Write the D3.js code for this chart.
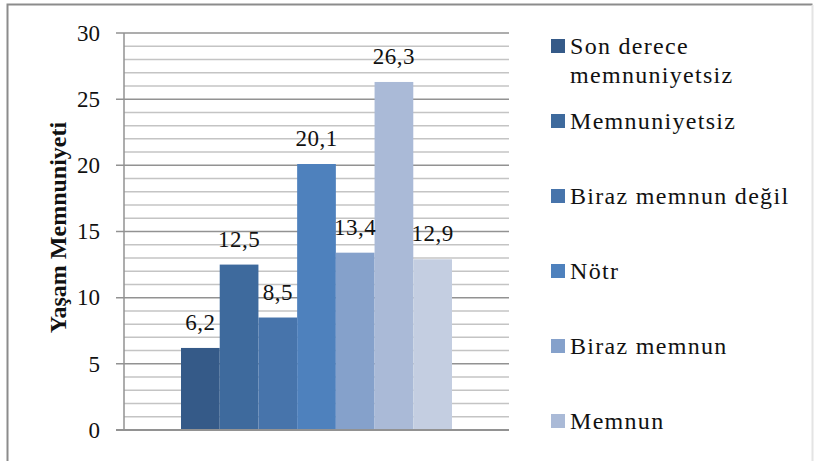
<!DOCTYPE html>
<html>
<head>
<meta charset="utf-8">
<script src="https://cdn.jsdelivr.net/npm/d3@7"></script>
<style>
  body { margin: 0; background: #fff; }
  svg { display: block; font-family: "Liberation Serif", "Times New Roman", serif; fill: #111; }
</style>
</head>
<body>
<div id="chart"></div>
<script>
const categories = ["Son derece memnuniyetsiz", "Memnuniyetsiz", "Biraz memnun değil", "Nötr", "Biraz memnun", "Memnun", "Son derece memnun"];
const values = [6.2, 12.5, 8.5, 20.1, 13.4, 26.3, 12.9];
const colors = ["#355a88", "#3e6a9d", "#4774ab", "#4e81bd", "#85a1cb", "#aabad7", "#c4cee1"];
const yTicks = [0, 5, 10, 15, 20, 25, 30];
const yTitle = "Yaşam Memnuniyeti";

const width = 814, height = 461;
const plot = { l: 124, r: 509, t: 33, b: 430 };

const svg = d3.select("#chart")
    .append("svg")
    .attr("width", width)
    .attr("height", height);

// chart frame
svg.append("path")
    .attr("d", `M7.5,${height} V4.5 H812.5`)
    .attr("fill", "none")
    .attr("stroke", "#8c8c8c")
    .attr("stroke-width", 2);
svg.append("line")
    .attr("x1", 812.5).attr("x2", 812.5)
    .attr("y1", 5).attr("y2", height)
    .attr("stroke", "#e4e4e4")
    .attr("stroke-width", 2);

const y = d3.scaleLinear()
    .domain([0, 30])
    .range([plot.b, plot.t]);

const x = d3.scaleBand()
    .domain(categories)
    .range([181, 452]);

// minor gridlines
svg.append("g")
    .selectAll("line")
    .data(d3.range(1, 31).filter(v => v % 5 !== 0))
    .join("line")
    .attr("x1", plot.l).attr("x2", plot.r)
    .attr("y1", d => y(d)).attr("y2", d => y(d))
    .attr("stroke", "#c4c4c4")
    .attr("stroke-width", 1.5);

// major gridlines + tick marks
svg.append("g")
    .selectAll("line")
    .data(yTicks.filter(v => v > 0))
    .join("line")
    .attr("x1", plot.l - 8).attr("x2", plot.r)
    .attr("y1", d => y(d)).attr("y2", d => y(d))
    .attr("stroke", "#929292")
    .attr("stroke-width", 1.5);

// bars
svg.append("g")
    .selectAll("rect")
    .data(values)
    .join("rect")
    .attr("x", (d, i) => x(categories[i]))
    .attr("width", x.bandwidth())
    .attr("y", d => y(d))
    .attr("height", d => y(0) - y(d))
    .attr("fill", (d, i) => colors[i]);

// axes lines
svg.append("line")
    .attr("x1", plot.l).attr("x2", plot.l)
    .attr("y1", plot.t).attr("y2", plot.b)
    .attr("stroke", "#929292")
    .attr("stroke-width", 1.5);
svg.append("line")
    .attr("x1", plot.l - 8).attr("x2", plot.r)
    .attr("y1", plot.b).attr("y2", plot.b)
    .attr("stroke", "#929292")
    .attr("stroke-width", 2);

// tick labels
svg.append("g")
    .selectAll("text")
    .data(yTicks)
    .join("text")
    .attr("x", plot.l - 24)
    .attr("y", d => y(d))
    .attr("dy", "0.34em")
    .attr("text-anchor", "end")
    .style("font-size", "23px")
    .text(d => d);

// data labels
svg.append("g")
    .selectAll("text")
    .data(values)
    .join("text")
    .attr("x", (d, i) => x(categories[i]) + x.bandwidth() / 2)
    .attr("y", d => y(d) - 18)
    .attr("text-anchor", "middle")
    .style("font-size", "23px")
    .style("letter-spacing", "0.5px")
    .text(d => String(d).replace(".", ","));

// y title
svg.append("text")
    .attr("transform", `translate(66, ${(plot.t + plot.b) / 2 - 4}) rotate(-90)`)
    .attr("text-anchor", "middle")
    .style("font-size", "24px")
    .style("font-weight", "bold")
    .text(yTitle);

// legend (the last entry falls below the picture, as in the original)
const legendY = d3.scaleLinear()
    .domain([0, 1])
    .range([46, 121]);

const legend = svg.append("g")
    .selectAll("g")
    .data(categories.filter((d, i) => legendY(i) < height - 20))
    .join("g")
    .attr("transform", (d, i) => `translate(551, ${legendY(i)})`);

legend.append("rect")
    .attr("x", 0).attr("y", -7)
    .attr("width", 14).attr("height", 14)
    .attr("fill", (d, i) => colors[i]);

legend.append("text")
    .style("font-size", "24px")
    .style("letter-spacing", "1.3px")
    .each(function(d) {
        const t = d3.select(this);
        const lines = d === categories[0] ? ["Son derece", "memnuniyetsiz"] : [d];
        lines.forEach((line, j) => {
            t.append("tspan")
                .attr("x", 19)
                .attr("dy", j === 0 ? "0.34em" : "1.2em")
                .text(line);
        });
    });
</script>
</body>
</html>
